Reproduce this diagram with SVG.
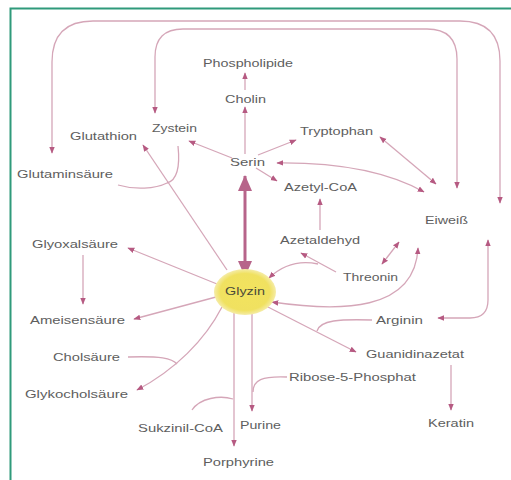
<svg xmlns="http://www.w3.org/2000/svg" width="511" height="480" viewBox="0 0 511 480">
<defs>
<style>
.t{font-family:"Liberation Sans",Arial,sans-serif;font-size:11px;fill:#5e5e5e}
.c{fill:none;stroke:#d5a6b8;stroke-width:1.3}
.a{marker-end:url(#ah)}
.b{marker-start:url(#ah);marker-end:url(#ah)}
</style>
<marker id="ah" viewBox="0 0 10 10" refX="9" refY="5" markerWidth="7" markerHeight="7" orient="auto-start-reverse" markerUnits="userSpaceOnUse"><path d="M0,1 L10,5 L0,9 z" fill="#b65a82"/></marker>
<marker id="big" viewBox="0 0 16 14" refX="15" refY="7" markerWidth="16" markerHeight="14" orient="auto-start-reverse" markerUnits="userSpaceOnUse"><path d="M0,0 L16,7 L0,14 z" fill="#b7648a"/></marker>
<radialGradient id="yg" cx="50%" cy="50%" r="50%">
<stop offset="0%" stop-color="#f2e35e"/>
<stop offset="80%" stop-color="#f0e160"/>
<stop offset="100%" stop-color="#f5eca8"/>
</radialGradient>
</defs>
<rect width="511" height="480" fill="#ffffff"/>
<path d="M10.5 480 L10.5 8.5 L511 8.5" fill="none" stroke="#2f9a7b" stroke-width="2"/>

<g id="connectors">
<path class="c b" d="M52 153 L52 62 Q52 21 93 21 L460 21 Q500 21 500 61 L500 203"/>
<path class="c b" d="M155 113 L155 57 Q155 29 183 29 L427 29 Q457 29 457 59 L457 188"/>
<path class="c a" d="M245 90 L245 73"/>
<path class="c a" d="M245 154 L245 107"/>
<path class="c a" d="M232 158 L189 141"/>
<path class="c a" d="M258 155 L296 140"/>
<path class="c a" d="M256 168 L277 181"/>
<path class="c b" d="M277 163 Q370 162 424 192"/>
<path class="c b" d="M380 137 L436 184"/>
<path d="M245 176 L245 276" fill="none" stroke="#b7648a" stroke-width="3" marker-start="url(#big)" marker-end="url(#big)"/>
<path class="c a" d="M320 230 L320 199"/>
<path class="c a" d="M336 272 L301 253"/>
<path class="c a" d="M318 264 Q290 258 269 278"/>
<path class="c b" d="M382 264 L399 242"/>
<path class="c b" d="M272 302 C340 312 415 312 418 248"/>
<path class="c b" d="M438 318 L470 318 Q488 318 488 300 L488 240"/>
<path class="c a" d="M266 306 L356 352"/>
<path class="c" d="M372 320 C340 319 320 320 317 331"/>
<path class="c a" d="M451 365 L451 410"/>
<path class="c" d="M287 377 C262 376 253 380 253 392"/>
<path class="c a" d="M252 313 L252 411"/>
<path class="c a" d="M234 313 L234 446"/>
<path class="c" d="M192 410 C200 398 220 395 233 399"/>
<path class="c a" d="M222 307 C205 340 175 370 137 390"/>
<path class="c" d="M128 357 C160 356 172 358 177 364"/>
<path class="c a" d="M216 297 L134 319"/>
<path class="c a" d="M217 284 L128 248"/>
<path class="c a" d="M83 255 L83 304"/>
<path class="c a" d="M227 270 L143 145"/>
<path class="c" d="M178 146 C180 165 178 180 167 183"/>
<path class="c" d="M118 185 C135 190 155 189 167 183"/>
</g>

<g id="glyzin">
<ellipse cx="245" cy="292" rx="31" ry="23" fill="url(#yg)"/>
<text class="t" x="225" y="295" textLength="40" lengthAdjust="spacingAndGlyphs" style="fill:#4a4a3a">Glyzin</text>
</g>
<g id="phospholipide"><text class="t" x="203" y="67" textLength="90" lengthAdjust="spacingAndGlyphs">Phospholipide</text></g>
<g id="cholin"><text class="t" x="225" y="103" textLength="41" lengthAdjust="spacingAndGlyphs">Cholin</text></g>
<g id="zystein"><text class="t" x="152" y="132" textLength="45" lengthAdjust="spacingAndGlyphs">Zystein</text></g>
<g id="glutathion"><text class="t" x="70" y="140" textLength="67" lengthAdjust="spacingAndGlyphs">Glutathion</text></g>
<g id="serin"><text class="t" x="230" y="166" textLength="35" lengthAdjust="spacingAndGlyphs">Serin</text></g>
<g id="tryptophan"><text class="t" x="300" y="135" textLength="73" lengthAdjust="spacingAndGlyphs">Tryptophan</text></g>
<g id="azetylcoa"><text class="t" x="284" y="191" textLength="73" lengthAdjust="spacingAndGlyphs">Azetyl-CoA</text></g>
<g id="glutaminsaeure"><text class="t" x="17" y="178" textLength="96" lengthAdjust="spacingAndGlyphs">Glutaminsäure</text></g>
<g id="eiweiss"><text class="t" x="425" y="224" textLength="43" lengthAdjust="spacingAndGlyphs">Eiweiß</text></g>
<g id="glyoxalsaeure"><text class="t" x="32" y="248" textLength="86" lengthAdjust="spacingAndGlyphs">Glyoxalsäure</text></g>
<g id="azetaldehyd"><text class="t" x="280" y="244" textLength="80" lengthAdjust="spacingAndGlyphs">Azetaldehyd</text></g>
<g id="threonin"><text class="t" x="343" y="281" textLength="55" lengthAdjust="spacingAndGlyphs">Threonin</text></g>
<g id="ameisensaeure"><text class="t" x="30" y="324" textLength="95" lengthAdjust="spacingAndGlyphs">Ameisensäure</text></g>
<g id="arginin"><text class="t" x="376" y="324" textLength="47" lengthAdjust="spacingAndGlyphs">Arginin</text></g>
<g id="cholsaeure"><text class="t" x="53" y="361" textLength="67" lengthAdjust="spacingAndGlyphs">Cholsäure</text></g>
<g id="guanidinazetat"><text class="t" x="366" y="358" textLength="98" lengthAdjust="spacingAndGlyphs">Guanidinazetat</text></g>
<g id="ribose"><text class="t" x="289" y="381" textLength="127" lengthAdjust="spacingAndGlyphs">Ribose-5-Phosphat</text></g>
<g id="glykocholsaeure"><text class="t" x="25" y="398" textLength="103" lengthAdjust="spacingAndGlyphs">Glykocholsäure</text></g>
<g id="sukzinilcoa"><text class="t" x="138" y="432" textLength="85" lengthAdjust="spacingAndGlyphs">Sukzinil-CoA</text></g>
<g id="purine"><text class="t" x="240" y="429" textLength="41" lengthAdjust="spacingAndGlyphs">Purine</text></g>
<g id="keratin"><text class="t" x="428" y="427" textLength="46" lengthAdjust="spacingAndGlyphs">Keratin</text></g>
<g id="porphyrine"><text class="t" x="203" y="466" textLength="71" lengthAdjust="spacingAndGlyphs">Porphyrine</text></g>
</svg>
